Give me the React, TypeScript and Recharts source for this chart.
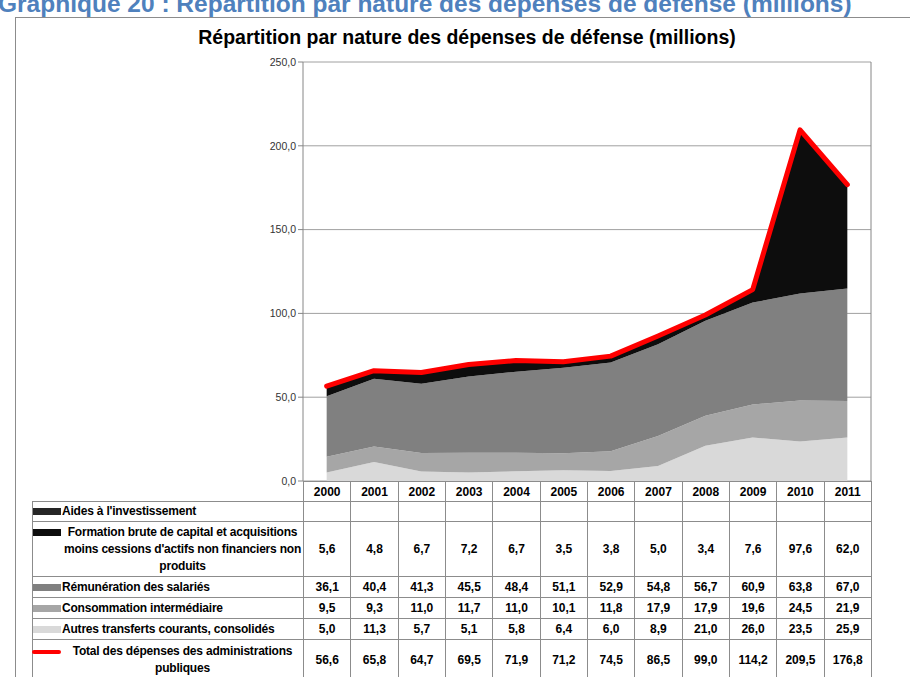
import React from 'react';
import { ComposedChart, Area, Line, XAxis, YAxis, CartesianGrid } from 'recharts';

const years = ['2000', '2001', '2002', '2003', '2004', '2005', '2006', '2007', '2008', '2009', '2010', '2011'];
const aides: (number | null)[] = [null, null, null, null, null, null, null, null, null, null, null, null];
const formation = [5.6, 4.8, 6.7, 7.2, 6.7, 3.5, 3.8, 5.0, 3.4, 7.6, 97.6, 62.0];
const remuneration = [36.1, 40.4, 41.3, 45.5, 48.4, 51.1, 52.9, 54.8, 56.7, 60.9, 63.8, 67.0];
const consommation = [9.5, 9.3, 11.0, 11.7, 11.0, 10.1, 11.8, 17.9, 17.9, 19.6, 24.5, 21.9];
const autres = [5.0, 11.3, 5.7, 5.1, 5.8, 6.4, 6.0, 8.9, 21.0, 26.0, 23.5, 25.9];
const total = [56.6, 65.8, 64.7, 69.5, 71.9, 71.2, 74.5, 86.5, 99.0, 114.2, 209.5, 176.8];
const yTicks = [0, 50, 100, 150, 200, 250];

const pageTitle = 'Graphique 20 : Répartition par nature des dépenses de défense (millions)';
const chartTitle = 'Répartition par nature des dépenses de défense (millions)';

const rows = [
  { label: "Aides à l'investissement", values: aides, color: '#262626', kind: 'area', h: 20 },
  { label: "Formation brute de capital et acquisitions moins cessions d'actifs non financiers non produits", values: formation, color: '#0d0d0d', kind: 'area', h: 55 },
  { label: 'Rémunération des salariés', values: remuneration, color: '#808080', kind: 'area', h: 21 },
  { label: 'Consommation intermédiaire', values: consommation, color: '#a6a6a6', kind: 'area', h: 21 },
  { label: 'Autres transferts courants,  consolidés', values: autres, color: '#d9d9d9', kind: 'area', h: 21 },
  { label: 'Total des dépenses des administrations publiques', values: total, color: '#ff0000', kind: 'line', h: 40 },
];

const data = years.map((year, i) => ({
  year,
  autres: autres[i],
  consommation: consommation[i],
  remuneration: remuneration[i],
  formation: formation[i],
  aides: aides[i] ?? 0,
  total: total[i],
}));

const fmt = (v: number | null) => (v == null ? '' : v.toFixed(1).replace('.', ','));

const FONT = "'Liberation Sans', Arial, sans-serif";
const NARROW = "'Liberation Sans Narrow', 'Liberation Sans', Arial, sans-serif";
const BORDER = '1px solid #8c8c8c';

const PLOT_LEFT = 303;
const PLOT_RIGHT = 871;
const colW = (PLOT_RIGHT - PLOT_LEFT) / years.length;

export default function App() {
  return (
    <div style={{ position: 'absolute', left: 0, top: 0, width: 910, height: 677, overflow: 'hidden', background: '#fff', fontFamily: FONT }}>
      <div style={{ position: 'absolute', left: -2, top: -10, fontSize: 24.5, fontWeight: 'bold', color: '#4f81bd', whiteSpace: 'nowrap', fontFamily: NARROW }}>
        {pageTitle}
      </div>
      <div style={{ position: 'absolute', left: 15, top: 17, width: 900, height: 700, borderLeft: BORDER, borderTop: BORDER }} />
      <div style={{ position: 'absolute', left: 0, width: 934, top: 26, textAlign: 'center', fontSize: 19.5, fontWeight: 'bold', color: '#000', fontFamily: NARROW }}>
        {chartTitle}
      </div>

      <div style={{ position: 'absolute', left: 0, top: 0 }}>
        <ComposedChart width={910} height={490} data={data} margin={{ top: 62, right: 0, bottom: 9, left: 263 }}>
          <CartesianGrid yAxisId="left" vertical={false} stroke="#a0a0a0" />
          <XAxis dataKey="year" scale="band" hide />
          <YAxis
            yAxisId="left"
            width={40}
            domain={[0, 250]}
            ticks={yTicks}
            tickFormatter={fmt}
            axisLine={{ stroke: '#868686' }}
            tickLine={{ stroke: '#868686' }}
            tickSize={5}
            tick={{ fontSize: 10.5, fill: '#333', fontFamily: FONT }}
          />
          <YAxis
            yAxisId="right"
            orientation="right"
            width={39}
            domain={[0, 250]}
            ticks={yTicks}
            tickFormatter={fmt}
            axisLine={{ stroke: '#868686' }}
            tickLine={{ stroke: '#868686' }}
            tickSize={5}
            tick={{ fontSize: 10.5, fill: '#333', fontFamily: FONT, textAnchor: 'start' }}
          />
          <Area yAxisId="left" type="linear" dataKey="autres" stackId="a" fill="#d9d9d9" fillOpacity={1} stroke="none" isAnimationActive={false} />
          <Area yAxisId="left" type="linear" dataKey="consommation" stackId="a" fill="#a6a6a6" fillOpacity={1} stroke="none" isAnimationActive={false} />
          <Area yAxisId="left" type="linear" dataKey="remuneration" stackId="a" fill="#808080" fillOpacity={1} stroke="none" isAnimationActive={false} />
          <Area yAxisId="left" type="linear" dataKey="formation" stackId="a" fill="#0d0d0d" fillOpacity={1} stroke="none" isAnimationActive={false} />
          <Area yAxisId="left" type="linear" dataKey="aides" stackId="a" fill="#262626" fillOpacity={1} stroke="none" isAnimationActive={false} />
          <Line
            yAxisId="left"
            type="linear"
            dataKey="total"
            stroke="#ff0000"
            strokeWidth={5}
            strokeLinecap="round"
            strokeLinejoin="round"
            dot={false}
            isAnimationActive={false}
          />
        </ComposedChart>
      </div>

      {/* data table under the plot */}
      <table
        style={{
          position: 'absolute',
          left: 32,
          top: 481,
          borderCollapse: 'collapse',
          tableLayout: 'fixed',
          width: PLOT_RIGHT - 32,
          fontSize: 12,
          fontWeight: 'bold',
          fontFamily: NARROW,
          color: '#000',
        }}
      >
        <colgroup>
          <col style={{ width: PLOT_LEFT - 32 }} />
          {years.map((y) => (
            <col key={y} style={{ width: colW }} />
          ))}
        </colgroup>
        <tbody>
          <tr style={{ height: 20 }}>
            <td style={{ border: 'none', padding: 0 }} />
            {years.map((y) => (
              <td key={y} style={{ border: BORDER, textAlign: 'center', padding: 0 }}>{y}</td>
            ))}
          </tr>
          {rows.map((r) => (
            <tr key={r.label} style={{ height: r.h }}>
              <td style={{ border: BORDER, padding: 0, verticalAlign: 'middle' }}>
                <div style={{ display: 'flex', alignItems: 'flex-start' }}>
                  {r.kind === 'line' ? (
                    <div style={{ width: 29, height: 4, marginLeft: -1, marginTop: 7, borderRadius: 2, background: r.color, flexShrink: 0 }} />
                  ) : (
                    <div style={{ width: 28, height: 7, marginLeft: 0, marginTop: 5, background: r.color, flexShrink: 0 }} />
                  )}
                  <div style={{ textAlign: 'center', lineHeight: '17px', paddingLeft: 1, letterSpacing: -0.2 }}>{r.label}</div>
                </div>
              </td>
              {r.values.map((v, i) => (
                <td key={i} style={{ border: BORDER, textAlign: 'center', padding: 0 }}>{fmt(v)}</td>
              ))}
            </tr>
          ))}
        </tbody>
      </table>
    </div>
  );
}
